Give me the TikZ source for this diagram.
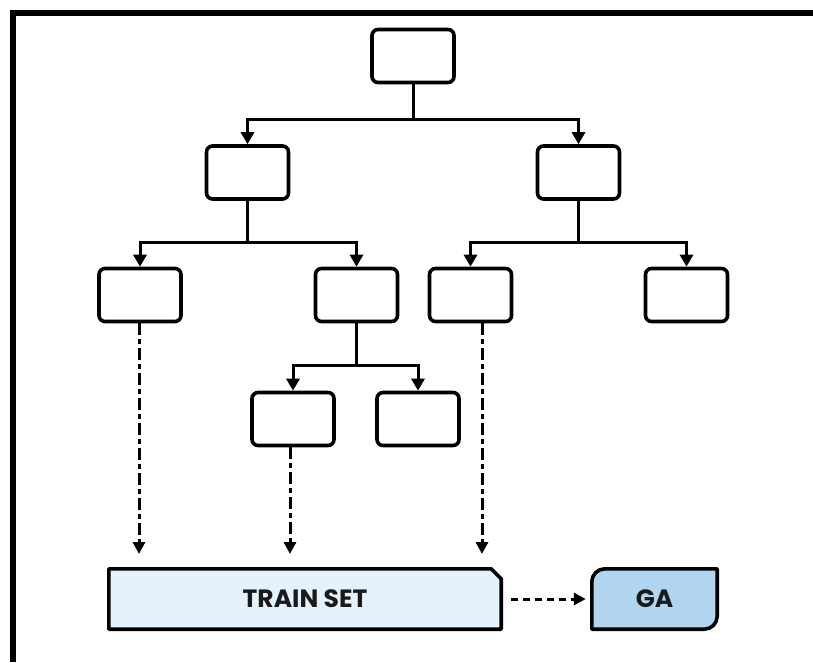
\documentclass[tikz,border=0pt]{standalone}
\usepackage{fontspec}
\newfontfamily\lblfont{Poppins}[UprightFont=* Bold]
\usetikzlibrary{arrows.meta}
\definecolor{trainfill}{HTML}{E4F2FC}
\definecolor{gafill}{HTML}{B1D5EF}
\definecolor{txt}{HTML}{1A1A1A}
\tikzset{
  treebox/.style={draw=black, line width=3.6pt, rounded corners=6pt, fill=white, minimum width=82pt, minimum height=53pt, inner sep=0pt},
  conn/.style={draw=black, line width=3pt},
  connarrow/.style={conn, -{Triangle[width=13pt,length=12pt]}},
  dasharrow/.style={draw=black, line width=3pt, dash pattern=on 12pt off 4pt on 5pt off 4pt, -{Triangle[width=12pt,length=12pt]}},
  lbl/.style={font=\lblfont\fontsize{25}{28}\selectfont, text=txt, inner sep=0pt}
}
\begin{document}
\begin{tikzpicture}[x=1pt,y=1pt]
\useasboundingbox (0,0) rectangle (813,662);
% frame
\draw[line width=6pt] (13,0) -- (13,649) -- (813,649);
% tree nodes
\node[treebox] (top) at (413,606) {};
\node[treebox] (l2l) at (247.5,489.5) {};
\node[treebox] (l2r) at (578.5,489.5) {};
\node[treebox] (l3a) at (140,367) {};
\node[treebox] (l3b) at (356.5,367) {};
\node[treebox] (l3c) at (470.5,367) {};
\node[treebox] (l3d) at (686.5,367) {};
\node[treebox] (l4a) at (293,243) {};
\node[treebox] (l4b) at (418,243) {};
% junction coordinates
\coordinate (b1) at (413,542);
\coordinate (b2l) at (247.5,419);
\coordinate (b2r) at (578.5,419);
\coordinate (b3) at (356.5,297);
% connectors
\draw[conn] (top.south) -- (b1);
\draw[connarrow] (b1) -| (l2l.north);
\draw[connarrow] (b1) -| (l2r.north);
\draw[conn] (l2l.south) -- (b2l);
\draw[connarrow] (b2l) -| (l3a.north);
\draw[connarrow] (b2l) -| (l3b.north);
\draw[conn] (l2r.south) -- (b2r);
\draw[connarrow] (b2r) -| (l3c.north);
\draw[connarrow] (b2r) -| (l3d.north);
\draw[conn] (l3b.south) -- (b3);
\draw[connarrow] (b3) -| (l4a.north);
\draw[connarrow] (b3) -| (l4b.north);
% bottom nodes
\node[lbl, minimum width=392pt, minimum height=60pt] (train) at (305,63) {};
\node[lbl, minimum width=125pt, minimum height=60pt] (ga) at (654.5,63) {};
\fill[trainfill] (train.south west) -- (train.north west) -- ([xshift=-10pt]train.north east) -- ([yshift=-10pt]train.north east) -- (train.south east) -- cycle;
\draw[line width=3.6pt, line join=round] (train.south west) -- (train.north west) -- ([xshift=-10pt]train.north east) -- ([yshift=-10pt]train.north east) -- (train.south east) -- cycle;
\node[lbl] (traintext) at (train) {TRAIN SET};
\filldraw[fill=gafill, draw=black, line width=3.6pt, line join=round] (ga.south west) -- ([yshift=-13pt]ga.north west) arc(180:90:13pt) -- (ga.north east) -- ([yshift=13pt]ga.south east) arc(0:-90:13pt) -- cycle;
\node[lbl] (gatext) at (ga) {GA};
% dashed connectors
\coordinate (d1) at (139,108);
\coordinate (d2) at (290,108);
\coordinate (d3) at (482,108);
\draw[dasharrow] (l3a.south) ++(-1,0) -- (d1);
\draw[dasharrow] (l4a.south) ++(-3,0) -- (d2);
\draw[dasharrow] (l3c.south) ++(11.5,0) -- (d3);
\draw[dasharrow, dash pattern=on 7pt off 5pt] ([xshift=10pt]train.east) -- ([xshift=-6pt]ga.west);
\end{tikzpicture}
\end{document}
